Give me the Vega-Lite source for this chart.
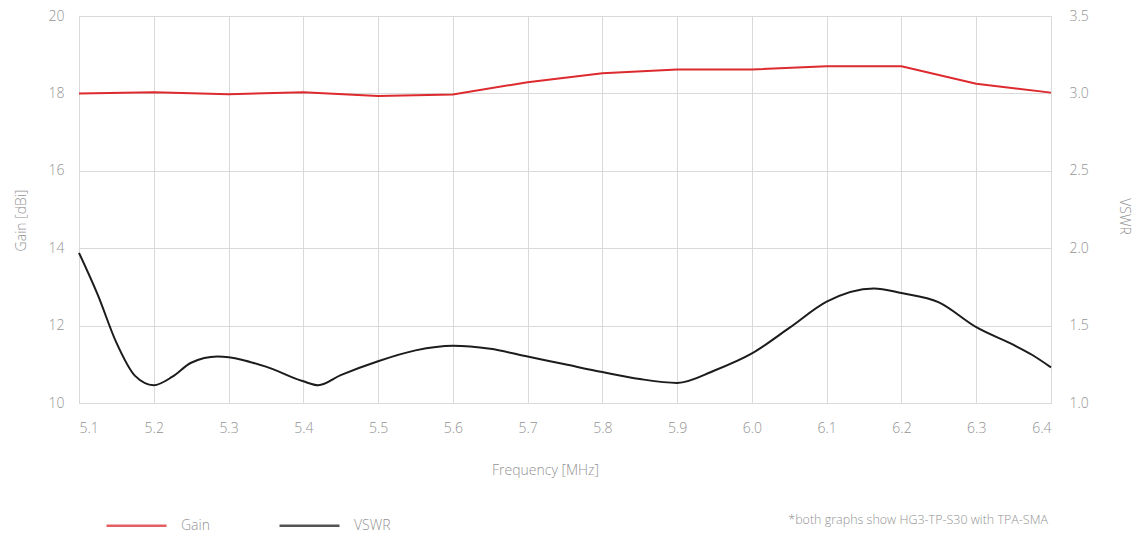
{
  "$schema": "https://vega.github.io/schema/vega-lite/v6.json",
  "width": 972,
  "height": 387,
  "autosize": {"type": "none"},
  "padding": {"left": 79, "top": 16, "right": 86, "bottom": 130},
  "background": "white",
  "config": {
    "font": "Open Sans",
    "view": {"stroke": "#d6d6d6", "strokeWidth": 1},
    "axis": {
      "labelFont": "Open Sans",
      "titleFont": "Open Sans",
      "labelColor": "#939393",
      "titleColor": "#939393",
      "labelFontSize": 14,
      "labelFontWeight": 300,
      "titleFontSize": 14,
      "titleFontWeight": 300,
      "domain": false,
      "ticks": false,
      "gridColor": "#d9d9d9",
      "gridWidth": 1
    }
  },
  "title": {
    "text": "*both graphs show HG3-TP-S30 with TPA-SMA",
    "orient": "bottom",
    "anchor": "end",
    "frame": "group",
    "fontSize": 12.5,
    "fontWeight": 300,
    "color": "#939393",
    "font": "Open Sans",
    "offset": 0,
    "dy": -19,
    "dx": -3
  },
  "datasets": {
    "gain": [
      {"freq": 5.1, "value": 18.0, "series": "Gain"},
      {"freq": 5.2, "value": 18.03, "series": "Gain"},
      {"freq": 5.3, "value": 17.98, "series": "Gain"},
      {"freq": 5.4, "value": 18.03, "series": "Gain"},
      {"freq": 5.5, "value": 17.93, "series": "Gain"},
      {"freq": 5.6, "value": 17.97, "series": "Gain"},
      {"freq": 5.7, "value": 18.29, "series": "Gain"},
      {"freq": 5.8, "value": 18.52, "series": "Gain"},
      {"freq": 5.9, "value": 18.62, "series": "Gain"},
      {"freq": 6.0, "value": 18.62, "series": "Gain"},
      {"freq": 6.1, "value": 18.7, "series": "Gain"},
      {"freq": 6.2, "value": 18.7, "series": "Gain"},
      {"freq": 6.3, "value": 18.25, "series": "Gain"},
      {"freq": 6.4, "value": 18.02, "series": "Gain"}
    ],
    "vswr": [
      {"freq": 5.1, "value": 1.97, "series": "VSWR"},
      {"freq": 5.125, "value": 1.7, "series": "VSWR"},
      {"freq": 5.15, "value": 1.39, "series": "VSWR"},
      {"freq": 5.175, "value": 1.175, "series": "VSWR"},
      {"freq": 5.2, "value": 1.115, "series": "VSWR"},
      {"freq": 5.225, "value": 1.17, "series": "VSWR"},
      {"freq": 5.25, "value": 1.26, "series": "VSWR"},
      {"freq": 5.285, "value": 1.3, "series": "VSWR"},
      {"freq": 5.35, "value": 1.235, "series": "VSWR"},
      {"freq": 5.4, "value": 1.14, "series": "VSWR"},
      {"freq": 5.42, "value": 1.115, "series": "VSWR"},
      {"freq": 5.45, "value": 1.18, "series": "VSWR"},
      {"freq": 5.5, "value": 1.27, "series": "VSWR"},
      {"freq": 5.55, "value": 1.34, "series": "VSWR"},
      {"freq": 5.6, "value": 1.37, "series": "VSWR"},
      {"freq": 5.65, "value": 1.35, "series": "VSWR"},
      {"freq": 5.7, "value": 1.3, "series": "VSWR"},
      {"freq": 5.75, "value": 1.25, "series": "VSWR"},
      {"freq": 5.8, "value": 1.2, "series": "VSWR"},
      {"freq": 5.85, "value": 1.155, "series": "VSWR"},
      {"freq": 5.9, "value": 1.13, "series": "VSWR"},
      {"freq": 5.95, "value": 1.21, "series": "VSWR"},
      {"freq": 6.0, "value": 1.32, "series": "VSWR"},
      {"freq": 6.05, "value": 1.485, "series": "VSWR"},
      {"freq": 6.1, "value": 1.655, "series": "VSWR"},
      {"freq": 6.163, "value": 1.74, "series": "VSWR"},
      {"freq": 6.2, "value": 1.71, "series": "VSWR"},
      {"freq": 6.25, "value": 1.65, "series": "VSWR"},
      {"freq": 6.3, "value": 1.49, "series": "VSWR"},
      {"freq": 6.35, "value": 1.375, "series": "VSWR"},
      {"freq": 6.375, "value": 1.31, "series": "VSWR"},
      {"freq": 6.4, "value": 1.23, "series": "VSWR"}
    ]
  },
  "encoding": {
    "x": {
      "field": "freq",
      "type": "quantitative",
      "scale": {"domain": [5.1, 6.4], "nice": false, "zero": false},
      "axis": {
        "values": [5.1, 5.2, 5.3, 5.4, 5.5, 5.6, 5.7, 5.8, 5.9, 6.0, 6.1, 6.2, 6.3, 6.4],
        "format": ".1f",
        "title": "Frequency [MHz]",
        "labelPadding": 18,
        "titlePadding": 28,
        "titleX": 466
      }
    },
    "color": {
      "field": "series",
      "type": "nominal",
      "scale": {"domain": ["Gain", "VSWR"], "range": ["#dc2a2e", "#1c1c1c"]},
      "legend": {
        "title": null,
        "orient": "none",
        "direction": "horizontal",
        "legendX": 26,
        "legendY": 478,
        "symbolType": "stroke",
        "symbolSize": 3600,
        "symbolStrokeWidth": 2.5,
        "symbolOpacity": 0.75,
        "labelFontSize": 14,
        "labelFontWeight": 300,
        "labelColor": "#939393",
        "labelFont": "Open Sans",
        "labelOffset": 13,
        "columnPadding": 64
      }
    }
  },
  "layer": [
    {
      "data": {"name": "gain"},
      "mark": {"type": "line", "strokeWidth": 2, "interpolate": "linear"},
      "encoding": {
        "y": {
          "field": "value",
          "type": "quantitative",
          "scale": {"domain": [10, 20], "nice": false, "zero": false},
          "axis": {
            "orient": "left",
            "values": [10, 12, 14, 16, 18, 20],
            "title": "Gain [dBi]",
            "labelPadding": 15,
            "titlePadding": 20,
            "titleY": 204
          }
        }
      }
    },
    {
      "data": {"name": "vswr"},
      "mark": {"type": "line", "strokeWidth": 2, "interpolate": "monotone"},
      "encoding": {
        "y": {
          "field": "value",
          "type": "quantitative",
          "scale": {"domain": [1, 3.5], "nice": false, "zero": false},
          "axis": {
            "orient": "right",
            "values": [1, 1.5, 2, 2.5, 3, 3.5],
            "format": ".1f",
            "grid": false,
            "title": "VSWR",
            "labelPadding": 18,
            "titlePadding": 28,
            "titleY": 200
          }
        }
      }
    }
  ],
  "resolve": {"scale": {"y": "independent"}}
}
